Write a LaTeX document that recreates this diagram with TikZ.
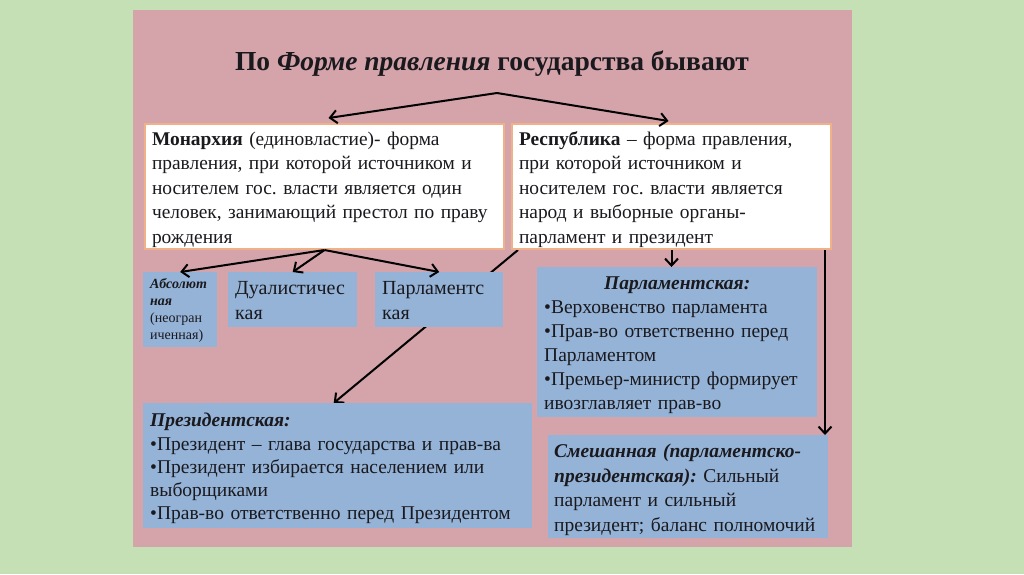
\documentclass[tikz,border=0pt]{standalone}
\usepackage{fontspec}
\setmainfont{Liberation Serif}
\usetikzlibrary{arrows.meta}
\definecolor{bgg}{RGB}{197,224,180}
\definecolor{slide}{RGB}{213,163,170}
\definecolor{bluebox}{RGB}{149,179,215}
\definecolor{orng}{RGB}{240,176,136}
\definecolor{ink}{RGB}{25,25,30}
\pgfdeclarelayer{back}
\pgfdeclarelayer{bg}
\pgfsetlayers{back,bg,main}
\frenchspacing
\begin{document}
\begin{tikzpicture}[x=1pt,y=-1pt,
  whitebox/.style={draw=orng, line width=2pt, fill=white, anchor=north west,
    inner xsep=7pt, inner ysep=0pt, font=\fontsize{19.4}{24.4}\selectfont, text=ink,
    text height=21.5pt, text depth=103.5pt},
  bluebox/.style={fill=bluebox, anchor=north west, inner xsep=7pt, inner ysep=0pt, text=ink},
  arr/.style={draw=black, line width=2pt, -{Straight Barb[length=7pt,width=13pt]}}]
\begin{pgfonlayer}{back}
\fill[bgg] (0,0) rectangle (1024,574);
\fill[slide] (133,10) rectangle (852,547);
\end{pgfonlayer}
\useasboundingbox (0,0) rectangle (1024,574);

\node[font=\fontsize{27.5}{32}\selectfont\bfseries, text=ink] (title) at (492,64)
  {По \textit{Форме правления} государства бывают};

\node[whitebox, text width=345pt] (mon) at (144,123)
  {\raggedright\textbf{Монархия} (единовластие)- форма\\
   правления, при которой источником и\\
   носителем гос. власти является один\\
   человек, занимающий престол по праву\\
   рождения};

\node[whitebox, text width=305pt] (rep) at (511,123)
  {\raggedright\textbf{Республика} – форма правления,\\
   при которой источником и\\
   носителем гос. власти является\\
   народ и выборные органы-\\
   парламент и президент};

\node[bluebox, inner xsep=7pt, text width=60pt, text height=16pt, text depth=59pt,
  font=\fontsize{14}{17.2}\selectfont] (abs) at (143,272)
  {\raggedright\textbf{\textit{Абсолют}}\\\textbf{\textit{ная}}\\(неогран\\иченная)};

\node[bluebox, text width=115pt, text height=22.5pt, text depth=32.5pt,
  font=\fontsize{20}{25}\selectfont] (dual) at (228,272)
  {\raggedright Дуалистичес\\кая};

\node[bluebox, text width=114pt, text height=22.5pt, text depth=32.5pt,
  font=\fontsize{20}{25}\selectfont] (parl) at (375,272)
  {\raggedright Парламентс\\кая};

\node[bluebox, inner xsep=7pt, text width=266pt, text height=22.5pt, text depth=127.5pt,
  font=\fontsize{19.5}{24}\selectfont] (rparl) at (537,267)
  {{\centering\textbf{\textit{Парламентская:}}\par}
   \raggedright •Верховенство парламента\\
   •Прав-во ответственно перед\\
   Парламентом\\
   •Премьер-министр формирует\\
   ивозглавляет прав-во};

\node[bluebox, inner xsep=7pt, text width=375pt, text height=23.5pt, text depth=101.5pt,
  font=\fontsize{19.5}{23.3}\selectfont] (pres) at (143,403)
  {\raggedright\textbf{\textit{Президентская:}}\\
   •Президент – глава государства и прав-ва\\
   •Президент избирается населением или\\
   выборщиками\\
   •Прав-во ответственно перед Президентом};

\node[bluebox, inner xsep=6pt, text width=268pt, text height=22.5pt, text depth=80.5pt,
  font=\fontsize{19.5}{24.6}\selectfont] (mix) at (548,435)
  {\raggedright\textbf{\textit{Смешанная (парламентско-}}\\
   \textbf{\textit{президентская):}} Сильный\\
   парламент и сильный\\
   президент; баланс полномочий};

\coordinate (peak) at (497,93);
\draw[arr] (peak) -- ([xshift=4pt,yshift=5pt]mon.north);
\draw[arr] (peak) -- ([xshift=-3pt,yshift=2pt]rep.north);

\draw[arr] (mon.south) -- (abs.north);
\draw[arr] (mon.south) -- (dual.north);
\draw[arr] (mon.south) -- (parl.north);

\draw[arr] (rep.south) -- (rep.south |- rparl.north);
\draw[arr] ([xshift=-7pt]rep.south east) -- ([xshift=-7pt]rep.south east |- mix.north);

\begin{pgfonlayer}{bg}
\draw[arr] ([xshift=7pt]rep.south west) -- ([xshift=-4pt]pres.north);
\end{pgfonlayer}
\end{tikzpicture}
\end{document}
